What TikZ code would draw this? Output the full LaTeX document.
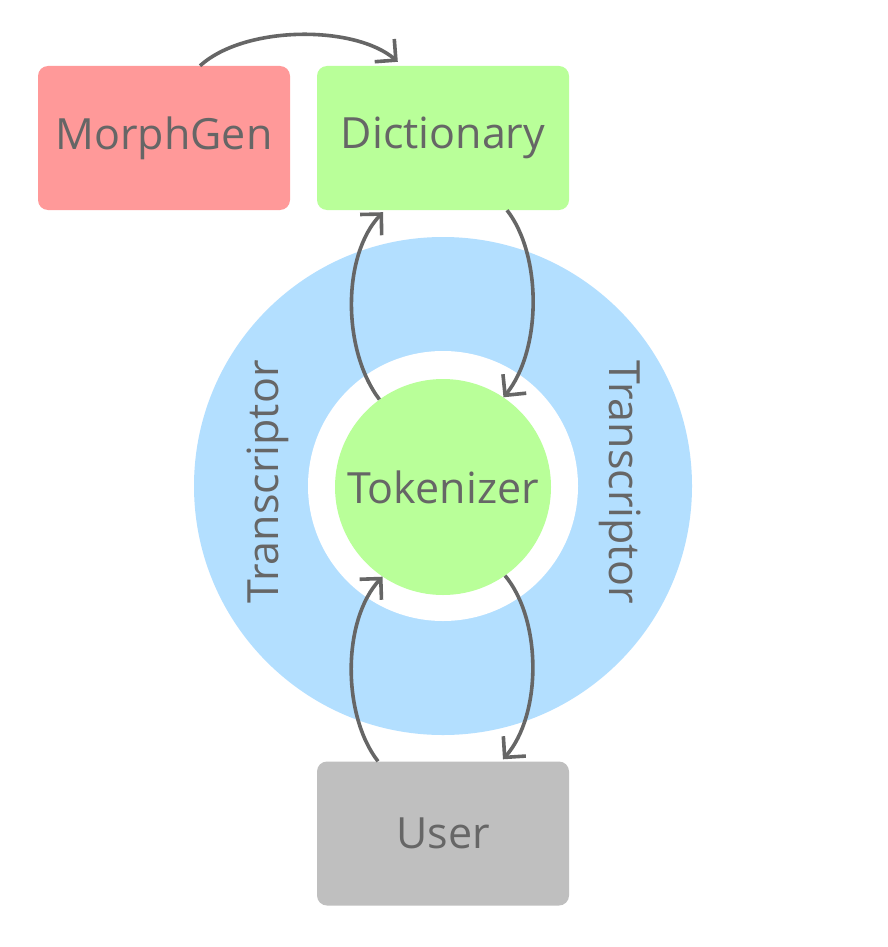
\documentclass[tikz,border=0pt]{standalone}
\usepackage{fontspec}
\setmainfont{Open Sans}
\usetikzlibrary{arrows.meta,calc}
\definecolor{txt}{RGB}{102,102,102}
\definecolor{morph}{RGB}{255,153,153}
\definecolor{dictc}{RGB}{185,255,153}
\definecolor{userc}{RGB}{191,191,191}
\definecolor{ringc}{RGB}{179,223,255}
\tikzset{
  box/.style={rounded corners=10pt, minimum width=252pt, minimum height=144pt, inner sep=0pt, text=txt, font=\fontsize{43}{50}\selectfont},
  lbl/.style={text=txt, font=\fontsize{43}{50}\selectfont, inner sep=0pt},
  conn/.style={draw=txt, line width=3.6pt, -{Straight Barb[length=15pt,width=30pt,line width=3.6pt]}},
}
\begin{document}
\begin{tikzpicture}[x=1pt,y=-1pt]
\useasboundingbox (0,0) rectangle (887,947);
\fill[white] (0,0) rectangle (887,947);
% ring
\node[circle, fill=ringc, minimum size=498pt, inner sep=0pt] (ring) at (443,486) {};
\node[circle, fill=white, minimum size=270pt, inner sep=0pt] (hole) at (443,486) {};
\node[circle, fill=dictc, minimum size=216pt, inner sep=0pt, lbl] (tok) at (443,487) {Tokenizer};
\node[lbl, rotate=90] (tl) at (268,482) {Transcriptor};
\node[lbl, rotate=-90] (tr) at (620,482) {Transcriptor};
% boxes
\node[box, fill=morph] (morph) at (164,138) {MorphGen};
\node[box, fill=dictc] (dict) at (443,138) {Dictionary};
\node[box, fill=userc] (user) at (443,833.5) {User};
% connectors
\draw[conn] ($(morph.north)+(36,0)$) .. controls (245,25) and (355,25) .. ($(dict.north west)+(81,-4)$);
\draw[conn] (tok.126) .. controls (342,350) and (342,255) .. ($(dict.south)+(-60,2)$);
\draw[conn] ($(dict.south)+(64,0)$) .. controls (542,255) and (542,350) .. (tok.56);
\draw[conn] ($(user.north)+(-65,0)$) .. controls (342,715) and (342,620) .. (tok.236);
\draw[conn] (tok.305) .. controls (542,620) and (542,715) .. ($(user.north)+(60,-2)$);
\end{tikzpicture}
\end{document}
